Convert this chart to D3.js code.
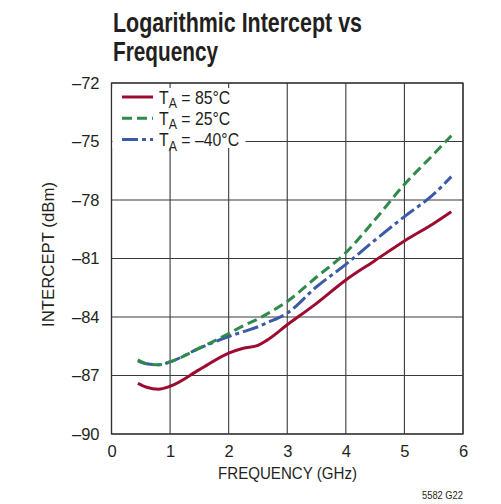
<!DOCTYPE html>
<html><head><meta charset="utf-8">
<script src="https://cdn.jsdelivr.net/npm/d3@7"></script>
<style>
body{margin:0;background:#fff;}
text{font-family:"Liberation Sans",Arial,sans-serif;fill:#231f20;}
</style></head><body>
<svg id="c" width="501" height="504"></svg>
<script>
const titleLines = ["Logarithmic Intercept vs", "Frequency"];
const xTicks = [0,1,2,3,4,5,6];
const yTicks = [-72,-75,-78,-81,-84,-87,-90];
const xLabel = "FREQUENCY (GHz)";
const yLabel = "INTERCEPT (dBm)";
const note = "5582 G22";
const freq    = [0.45, 0.6, 0.8, 1.0, 1.5, 2.0, 2.25, 2.5, 2.65, 3.0, 3.5, 4.0, 4.5, 5.0, 5.5, 5.8];
const t85     = [-87.4, -87.6, -87.7, -87.55, -86.7, -85.85, -85.6, -85.45, -85.2, -84.4, -83.3, -82.1, -81.1, -80.1, -79.2, -78.6];
const t25     = [-86.2, -86.4, -86.45, -86.3, -85.6, -84.85, -84.45, -84.1, -83.85, -83.2, -81.95, -80.7, -79.0, -77.2, -75.65, -74.7];
const tm40    = [-86.25, -86.4, -86.45, -86.3, -85.6, -85.0, -84.75, -84.5, -84.3, -83.8, -82.45, -81.3, -80.05, -78.85, -77.7, -76.8];
const seriesNames = ["85°C", "25°C", "–40°C"];

const svg = d3.select("#c");
const L=111.5, R=463, T=83, B=434;
const x = d3.scaleLinear().domain([0,6]).range([L,R]);
const y = d3.scaleLinear().domain([-90,-72]).range([B,T]);

// title
const titleW = [249, 105];
svg.selectAll("text.title").data(titleLines).enter().append("text")
  .attr("x",113).attr("y",(d,i)=>32+i*28.5)
  .attr("font-size",27.5).attr("font-weight","bold")
  .attr("textLength",(d,i)=>titleW[i]).attr("lengthAdjust","spacingAndGlyphs").text(d=>d);

// grid
const g = svg.append("g");
g.selectAll("line.vx").data(xTicks).enter().append("line")
  .attr("x1",d=>x(d)).attr("x2",d=>x(d)).attr("y1",T).attr("y2",B)
  .attr("stroke","#3a3a3a").attr("stroke-width",1.1);
g.selectAll("line.hy").data(yTicks).enter().append("line")
  .attr("y1",d=>y(d)).attr("y2",d=>y(d)).attr("x1",L).attr("x2",R)
  .attr("stroke","#3a3a3a").attr("stroke-width",1.1);
g.append("rect").attr("x",L).attr("y",T).attr("width",R-L).attr("height",B-T)
  .attr("fill","none").attr("stroke","#333").attr("stroke-width",1.3);

// axes labels via d3 axes (no lines)
const xa = svg.append("g").attr("transform",`translate(0,${B})`)
  .call(d3.axisBottom(x).tickValues(xTicks).tickSize(0).tickPadding(11).tickFormat(d3.format("d")));
xa.select(".domain").remove();
xa.selectAll("text").attr("font-size",16.5).attr("dy","0.72em").style("font-family",null);
const ya = svg.append("g").attr("transform",`translate(${L},0)`)
  .call(d3.axisLeft(y).tickValues(yTicks).tickSize(0).tickPadding(12).tickFormat(d=>"–"+Math.abs(d)));
ya.select(".domain").remove();
ya.selectAll("text").attr("font-size",16.5).style("font-family",null);
svg.selectAll(".tick text").attr("fill","#231f20");

svg.append("text").attr("x",287.5).attr("y",479).attr("text-anchor","middle")
  .attr("font-size",16.5).attr("textLength",139).attr("lengthAdjust","spacingAndGlyphs").text(xLabel);
svg.append("text").attr("transform",`translate(54,254.5) rotate(-90)`)
  .attr("text-anchor","middle").attr("font-size",16.5)
  .attr("textLength",145).attr("lengthAdjust","spacingAndGlyphs").text(yLabel);
svg.append("text").attr("x",463).attr("y",499).attr("text-anchor","end")
  .attr("font-size",11).attr("textLength",41).attr("lengthAdjust","spacingAndGlyphs").text(note);

// legend background
svg.append("rect").attr("x",L+1).attr("y",88).attr("width",133).attr("height",60).attr("fill","#fff");

const styles = [
  {color:"#9e0b31", dash:null},
  {color:"#2f8a4c", dash:"10,5"},
  {color:"#3a5ba8", dash:"16,4,4,4"}
];
const data = [t85,t25,tm40];
const line = d3.line().x(d=>x(d[0])).y(d=>y(d[1])).curve(d3.curveMonotoneX);
[2,1,0].forEach(i=>{
  svg.append("path").datum(freq.map((f,k)=>[f,data[i][k]]))
    .attr("d",line).attr("fill","none").attr("stroke",styles[i].color)
    .attr("stroke-width",3).attr("stroke-dasharray",styles[i].dash);
});

// legend
seriesNames.forEach((n,i)=>{
  const yy = 97+i*21.3;
  svg.append("line").attr("x1",122).attr("x2",153).attr("y1",yy).attr("y2",yy)
    .attr("stroke",styles[i].color).attr("stroke-width",3).attr("stroke-dasharray",styles[i].dash);
  const t = svg.append("text").attr("transform",`translate(159,${yy+6.5}) scale(0.88,1)`).attr("font-size",18);
  t.append("tspan").text("T");
  t.append("tspan").attr("font-size",14).attr("dy",4.5).text("A");
  t.append("tspan").attr("dy",-4.5).text(" = "+n);
});
</script></body></html>
